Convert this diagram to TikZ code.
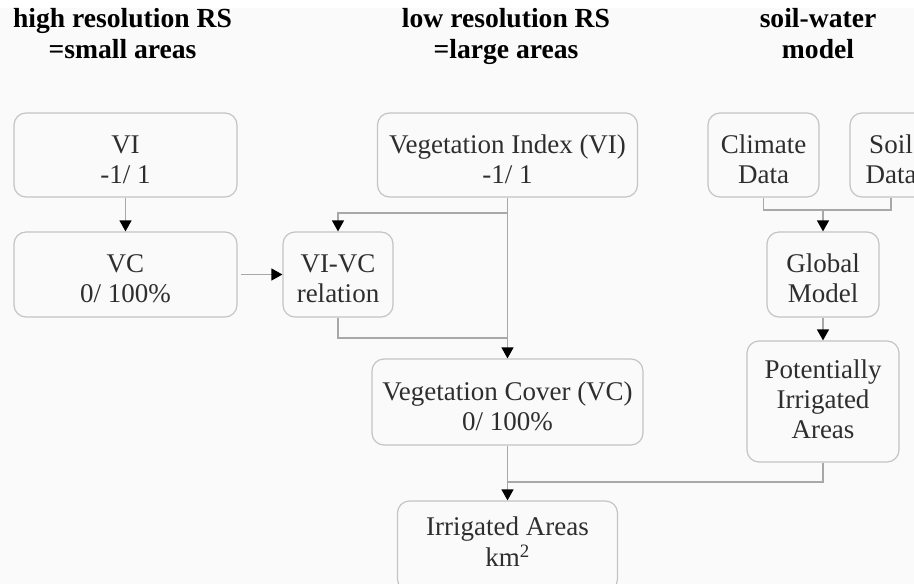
\documentclass[tikz,border=0pt]{standalone}
\usepackage{fontspec}
\setmainfont{Liberation Serif}
\usetikzlibrary{arrows.meta}
\definecolor{bgc}{HTML}{FAFAFA}
\definecolor{boxline}{HTML}{C4C4C4}
\definecolor{connline}{HTML}{A8A8A8}
\definecolor{txt}{HTML}{2E2E2E}
% first-line strut: height #1 above baseline, 9pt depth
\newcommand\fstr[1]{\rule[-9pt]{0pt}{\dimexpr #1pt+9pt\relax}}
% regular line strut
\newcommand\lstr{\rule[-9pt]{0pt}{30pt}}
\tikzset{
  box/.style={draw=boxline, line width=1.2pt, rounded corners=12pt, fill=bgc,
    inner sep=0pt, align=center, text=txt, font=\fontsize{27}{30}\selectfont},
  hdr/.style={inner sep=0pt, align=center, text=black, font=\bfseries\fontsize{27.6}{29}\selectfont},
  conn/.style={draw=connline, line width=1.2pt},
  arr/.style={conn, -{Triangle[width=12pt,length=11pt,color=black]}},
}
\begin{document}
\begin{tikzpicture}[x=1pt,y=-1pt]
\fill[bgc] (0,0) rectangle (914,584);
\fill[white] (0,0) rectangle (914,8);
\useasboundingbox (0,0) rectangle (914,584);

% headers
\node[hdr] (h1) at (122.5,36.5) {\lstr high resolution RS\\\lstr=small areas};
\node[hdr] (h2) at (506,36.5) {\lstr low resolution RS\\\lstr=large areas};
\node[hdr] (h3) at (818,36.5) {\lstr soil-water\\\lstr model};

% boxes
\node[box, minimum width=223pt, minimum height=84pt] (hVI) at (125.5,155) {\fstr{35}VI\\\lstr-1/ 1};
\node[box, minimum width=223pt, minimum height=85pt] (hVC) at (125.5,274.5) {\fstr{35}VC\\\lstr 0/ 100\%};
\node[box, minimum width=110pt, minimum height=85pt] (rel) at (338,274.5) {\fstr{35}VI-VC\\\lstr relation};
\node[box, minimum width=260pt, minimum height=84pt] (lVI) at (507.5,155) {\fstr{35}Vegetation Index (VI)\\\lstr-1/ 1};
\node[box, minimum width=271pt, minimum height=86pt] (lVC) at (507.5,402) {\fstr{35}Vegetation Cover (VC)\\\lstr 0/ 100\%};
\node[box, minimum width=220pt, minimum height=90pt] (irr) at (507.5,546) {\fstr{19}Irrigated Areas\\\lstr km\textsuperscript{2}};
\node[box, minimum width=111pt, minimum height=84pt] (clim) at (763.5,155) {\fstr{35}Climate\\\lstr Data};
\node[box, minimum width=82pt, minimum height=84pt] (soil) at (891,155) {\fstr{35}Soil\\\lstr Data};
\node[box, minimum width=112pt, minimum height=85pt] (glob) at (823,274.5) {\fstr{35}Global\\\lstr Model};
\node[box, minimum width=152pt, minimum height=121pt] (pot) at (823,401.5) {\fstr{22}Potentially\\\lstr Irrigated\\\lstr Areas};

% junctions
\coordinate (j1) at (507.5,213);
\coordinate (j2) at (507.5,338);
\coordinate (j3) at (507.5,482);
\coordinate (j4) at (823,210);

% connectors
\draw[arr] (hVI) -- (hVC);
\draw[arr, shorten <=3pt] (hVC.east) -- (rel.west);
\draw[arr] (lVI.south) -- (lVC.north);
\draw[arr] (j1) -| (rel.north);
\draw[conn] (rel.south) |- (j2);
\draw[arr] (lVC.south) -- (irr.north);
\draw[conn] (pot.south) |- (j3);
\draw[conn] (clim.south) |- (j4) -| (soil.south);
\draw[arr] (j4) -- (glob.north);
\draw[arr] (glob) -- (pot);
\end{tikzpicture}
\end{document}
